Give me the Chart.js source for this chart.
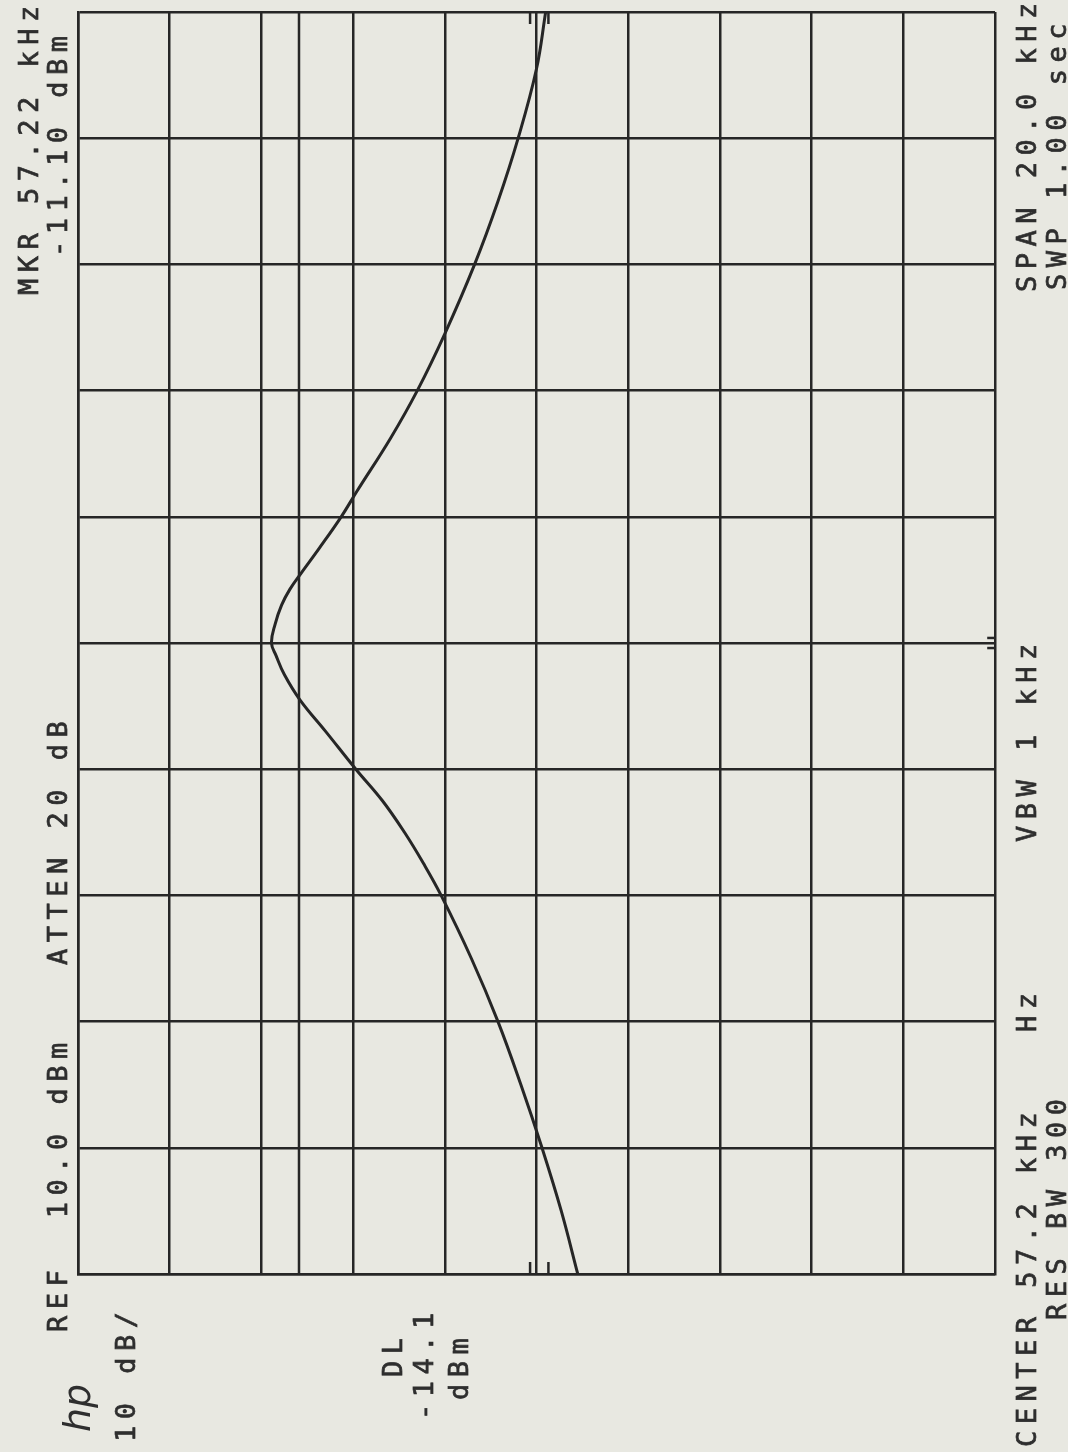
<!DOCTYPE html>
<html>
<head>
<meta charset="utf-8">
<script src="https://cdn.jsdelivr.net/npm/chart.js@4"></script>
<style>
  html, body { margin: 0; padding: 0; background: #e8e8e1; }
  #stage { display: block; }
</style>
</head>
<body>
<canvas id="stage" width="1068" height="1452"></canvas>
<script>
//trace (frequency kHz / level dBm)
var freqKHz = [47.2, 48.2, 49.2, 50.2, 51.2, 52.2, 53.2, 53.7, 54.2, 54.7, 55.2, 55.8, 56.3, 56.7, 57.0, 57.2, 57.5, 57.8, 58.05, 58.3, 58.7, 59.2, 59.6, 60.45, 61.2, 62.1, 63.2, 64.2, 65.2, 66.3, 67.2];
var levelDbm = [-44.5, -42.7, -40.6, -38.3, -35.8, -32.9, -29.6, -27.7, -25.6, -23.2, -20.3, -17.0, -14.2, -12.5, -11.6, -11.1, -11.5, -12.2, -13.1, -14.3, -16.3, -18.7, -20.4, -24.1, -27.0, -30.0, -33.25, -35.8, -38.0, -40.0, -41.0];
//graticule
var dbTicks = [10, 0, -10, -20, -30, -40, -50, -60, -70, -80, -90];
var freqTicks = [47.2, 49.2, 51.2, 53.2, 55.2, 57.2, 59.2, 61.2, 63.2, 65.2, 67.2];
var displayLine = -14.1;//DL
//small plotter marks on the border
var edgeMarkDb = [-39.3, -41.3];
var edgeMarkLen = 0.19;//kHz
var sideMarkFreq = [57.12, 57.28];
var sideMarkLen = 0.85;//dB

//annotation text: [text, baseline x, start y]  (reads bottom to top)
var labels = [
  ['MKR 57.22 kHz', 38, 295],
  ['REF  10.0 dBm', 67, 1332],
  ['ATTEN 20 dB', 67, 965],
  ['-11.10 dBm', 67, 257],
  ['10 dB/', 135, 1442],
  ['DL', 402, 1377],
  ['-14.1', 433, 1420],
  ['dBm', 468, 1400],
  ['CENTER 57.2 kHz', 1036, 1447],
  ['Hz', 1036, 1032],
  ['VBW 1 kHz', 1036, 842],
  ['SPAN 20.0 kHz', 1036, 292],
  ['RES BW 300', 1066, 1320],
  ['SWP 1.00 sec', 1066, 290]
];

var INK = '#262626';

var trace = [];
for (let i = 0; i < freqKHz.length; i++){
  trace.push({x: levelDbm[i], y: freqKHz[i]});
}

var datasets = [];
datasets.push({
  data: trace,
  borderColor: INK,
  borderWidth: 3,
  showLine: true,
  pointRadius: 0,
  tension: 0.4
});
//display line
datasets.push({
  data: [{x: displayLine, y: freqTicks[0]}, {x: displayLine, y: freqTicks[freqTicks.length - 1]}],
  borderColor: INK, borderWidth: 2.5, showLine: true, pointRadius: 0
});
//marks at bottom / top edges
for (let i = 0; i < edgeMarkDb.length; i++){
  let lo = freqTicks[0], hi = freqTicks[freqTicks.length - 1];
  datasets.push({data: [{x: edgeMarkDb[i], y: lo}, {x: edgeMarkDb[i], y: lo + edgeMarkLen}],
    borderColor: INK, borderWidth: 2.5, showLine: true, pointRadius: 0});
  datasets.push({data: [{x: edgeMarkDb[i], y: hi}, {x: edgeMarkDb[i], y: hi - edgeMarkLen}],
    borderColor: INK, borderWidth: 2.5, showLine: true, pointRadius: 0});
}
//marks on the right edge
for (let i = 0; i < sideMarkFreq.length; i++){
  let e = dbTicks[dbTicks.length - 1];
  datasets.push({data: [{x: e, y: sideMarkFreq[i]}, {x: e + sideMarkLen, y: sideMarkFreq[i]}],
    borderColor: INK, borderWidth: 2.5, showLine: true, pointRadius: 0});
}

//paper + rotated plotter text
var plotterText = {
  id: 'plotterText',
  beforeDraw: function(chart){
    let ctx = chart.ctx;
    ctx.save();
    ctx.fillStyle = '#e8e8e1';
    ctx.fillRect(0, 0, chart.width, chart.height);
    ctx.restore();
  },
  afterDraw: function(chart){
    let ctx = chart.ctx;
    ctx.save();
    ctx.fillStyle = '#2e2e2e';
    ctx.strokeStyle = '#2e2e2e';
    ctx.lineWidth = 0.7;
    ctx.font = '27px "DejaVu Sans Mono"';
    ctx.textBaseline = 'alphabetic';
    ctx.textAlign = 'left';
    ctx.letterSpacing = '6.5px';
    for (let i = 0; i < labels.length; i++){
      ctx.save();
      ctx.translate(labels[i][1], labels[i][2]);
      ctx.rotate(-Math.PI / 2);
      ctx.fillText(labels[i][0], 0, 0);
      ctx.strokeText(labels[i][0], 0, 0);
      ctx.restore();
    }
    //hp logo
    ctx.letterSpacing = '0px';
    ctx.font = 'italic 38px "DejaVu Sans"';
    ctx.translate(90, 1432);
    ctx.rotate(-Math.PI / 2);
    ctx.fillText('hp', 0, 0);
    ctx.restore();
  }
};

var gridOpt = {color: INK, lineWidth: 2.5, drawTicks: false};

new Chart(document.getElementById('stage'), {
  type: 'scatter',
  data: {datasets: datasets},
  options: {
    responsive: false,
    animation: false,
    devicePixelRatio: 1,
    layout: {padding: {left: 78, right: 73, top: 12, bottom: 178}},
    plugins: {legend: {display: false}, tooltip: {enabled: false}},
    scales: {
      x: {
        type: 'linear', reverse: true, min: -90, max: 10,
        afterBuildTicks: function(s){ s.ticks = dbTicks.map(v => ({value: v})); },
        ticks: {display: false},
        grid: gridOpt,
        border: {color: INK, width: 2.5}
      },
      y: {
        type: 'linear', min: 47.2, max: 67.2,
        afterBuildTicks: function(s){ s.ticks = freqTicks.map(v => ({value: v})); },
        ticks: {display: false},
        grid: gridOpt,
        border: {color: INK, width: 2.5}
      }
    }
  },
  plugins: [plotterText]
});
</script>
</body>
</html>
